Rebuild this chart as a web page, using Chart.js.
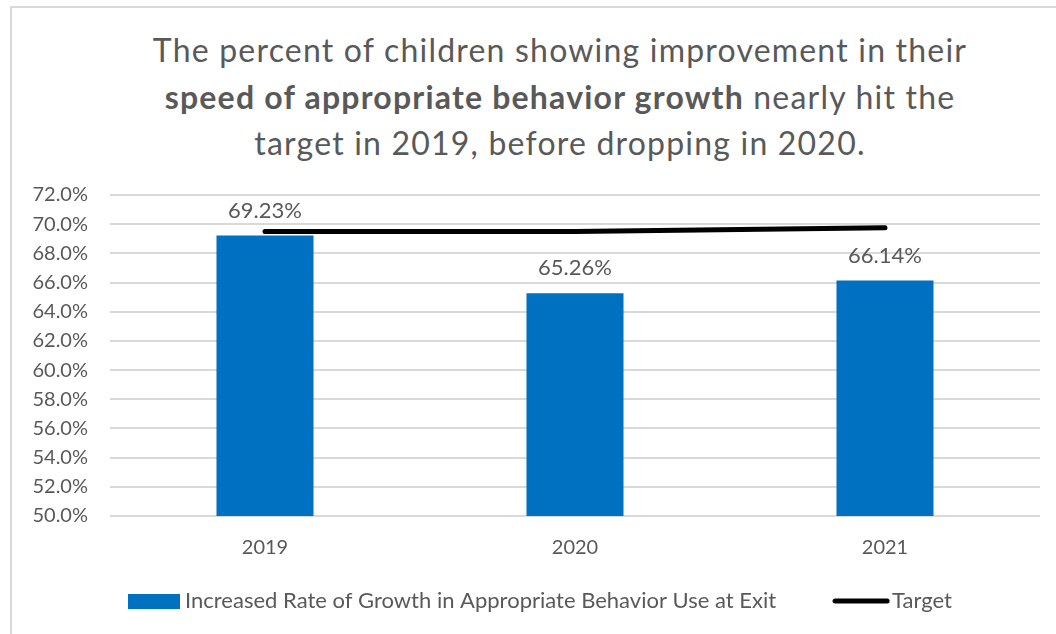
<!DOCTYPE html>
<html>
<head>
<meta charset="utf-8">
<script src="https://cdn.jsdelivr.net/npm/chart.js@4/dist/chart.umd.min.js"></script>
<style>
  html, body { margin: 0; padding: 0; background: #fff; }
  #wrap { position: relative; width: 1056px; height: 634px; overflow: hidden; }
  #frame { position: absolute; left: 10px; top: 6px; width: 1100px; height: 700px; border-left: 2px solid #d9d9d9; border-top: 2px solid #d9d9d9; }
  #title { position: absolute; left: 60px; width: 1000px; top: 27px; text-align: center; font-family: Lato, sans-serif; font-size: 32px; letter-spacing: 1.2px; line-height: 46.5px; color: #595959; }
  #title b { font-weight: bold; }
  canvas { position: absolute; left: 0; top: 0; }
</style>
</head>
<body>
<div id="wrap">
  <div id="frame"></div>
  <div id="title">The percent of children showing improvement in their<br><b>speed of appropriate behavior growth</b> nearly hit the<br>target in 2019, before dropping in 2020.</div>
  <canvas id="chart" width="1056" height="634"></canvas>
</div>
<script>
const years = ['2019', '2020', '2021'];
const growthRate = [69.23, 65.26, 66.14];
const target = [69.5, 69.5, 69.75];
const barLabel = 'Increased Rate of Growth in Appropriate Behavior Use at Exit';
const lineLabel = 'Target';

const BLUE = '#0070C0';
const GREY = '#595959';

// legend swatches, drawn as small canvases
const swatch = document.createElement('canvas');
swatch.width = 52;
swatch.height = 15;
let sctx = swatch.getContext('2d');
sctx.fillStyle = BLUE;
sctx.fillRect(0, 0, 52, 15);

const lineSwatch = document.createElement('canvas');
lineSwatch.width = 58;
lineSwatch.height = 6;
sctx = lineSwatch.getContext('2d');
sctx.strokeStyle = '#000';
sctx.lineWidth = 5;
sctx.lineCap = 'round';
sctx.beginPath();
sctx.moveTo(3, 3);
sctx.lineTo(55, 3);
sctx.stroke();

const barValueLabels = {
    id: 'barValueLabels',
    afterDatasetsDraw(chart) {
        const ctx = chart.ctx;
        const meta = chart.getDatasetMeta(1);
        ctx.save();
        ctx.font = '22px Lato';
        ctx.fillStyle = GREY;
        ctx.textAlign = 'center';
        ctx.textBaseline = 'middle';
        meta.data.forEach((bar, i) => {
            ctx.fillText(growthRate[i].toFixed(2) + '%', bar.x, bar.y - 25);
        });
        ctx.restore();
    }
};

// nudge the legend a bit to the right, like the original
const legendShift = {
    id: 'legendShift',
    afterLayout(chart) {
        chart.legend.left += 18;
        chart.legend.right += 18;
    }
};

new Chart(document.getElementById('chart'), {
    data: {
        labels: years,
        datasets: [
            {
                type: 'line',
                label: lineLabel,
                data: target,
                borderColor: '#000',
                borderWidth: 5,
                borderCapStyle: 'round',
                pointRadius: 0,
                fill: false,
                order: 0
            },
            {
                type: 'bar',
                label: barLabel,
                data: growthRate,
                backgroundColor: BLUE,
                categoryPercentage: 1,
                barPercentage: 0.313,
                order: 1
            }
        ]
    },
    options: {
        responsive: false,
        animation: false,
        layout: { padding: { top: 195, left: 10, right: 16, bottom: 12 } },
        scales: {
            x: {
                grid: { display: false, drawTicks: false },
                border: { display: false },
                ticks: { color: GREY, font: { family: 'Lato', size: 20 }, padding: 20 }
            },
            y: {
                min: 50,
                max: 72,
                afterFit: s => { s.width = 100; },
                grid: { color: '#d9d9d9', lineWidth: 2, drawTicks: false },
                border: { display: false },
                ticks: {
                    stepSize: 2,
                    autoSkip: false,
                    padding: 22,
                    color: GREY,
                    font: { family: 'Lato', size: 20 },
                    callback: v => v.toFixed(1) + '%'
                }
            }
        },
        plugins: {
            tooltip: { enabled: false },
            legend: {
                position: 'bottom',
                labels: {
                    color: GREY,
                    font: { family: 'Lato', size: 22 },
                    usePointStyle: true,
                    pointStyleWidth: 40,
                    padding: 10,
                    generateLabels: () => [
                        { text: barLabel + '\u2002\u2002\u2002\u2002\u2002', pointStyle: swatch, fillStyle: BLUE, strokeStyle: BLUE, lineWidth: 0, datasetIndex: 1, fontColor: GREY },
                        { text: lineLabel, pointStyle: lineSwatch, strokeStyle: '#000', lineWidth: 0, datasetIndex: 0, fontColor: GREY }
                    ]
                }
            }
        }
    },
    plugins: [barValueLabels, legendShift]
});
</script>
</body>
</html>
